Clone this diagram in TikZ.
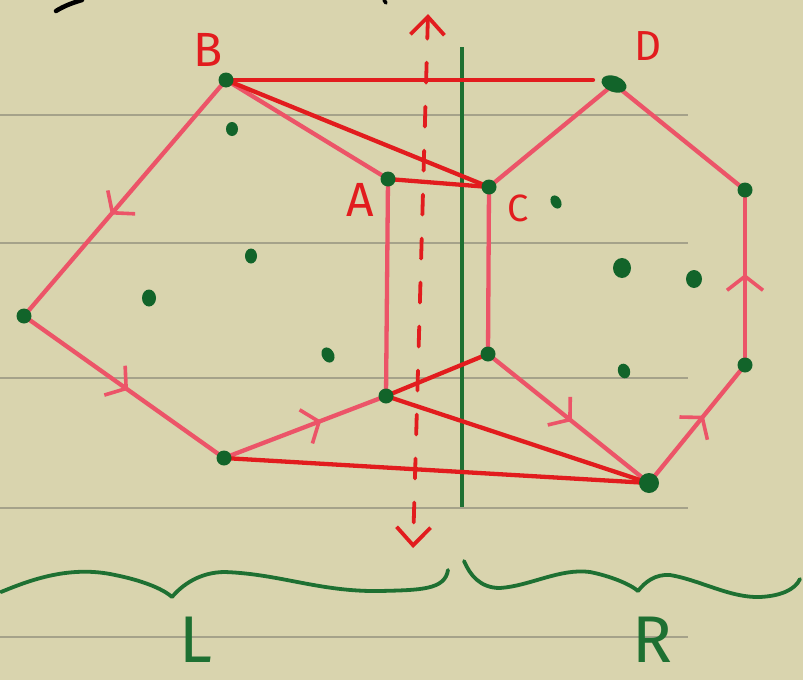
\documentclass[tikz,border=0pt]{standalone}
\usepackage{fontspec}
\setmainfont{Fira Sans}
\usetikzlibrary{arrows.meta,decorations.markings}
\definecolor{paper}{RGB}{217,212,174}
\definecolor{rulec}{RGB}{165,162,138}
\definecolor{pinkc}{RGB}{236,84,104}
\definecolor{redc}{RGB}{226,28,30}
\definecolor{dotc}{RGB}{18,100,42}
\definecolor{greenc}{RGB}{30,112,50}
\tikzset{
  pinkedge/.style={draw=pinkc, line width=4.3pt, line cap=round},
  rededge/.style={draw=redc, line width=4.3pt, line cap=round},
  vdot/.style={fill=dotc, circle, inner sep=0pt, minimum size=15pt},
  idot/.style={fill=dotc},
  midarrow/.style={postaction={decorate}, decoration={markings,
     mark=at position #1 with {\arrow{Straight Barb[length=14pt,width=36pt,line width=3.6pt]}}}},
  midarrow/.default=0.5,
  ruled/.style={draw=rulec, line width=1.8pt},
  redlabel/.style={text=redc, font=\fontsize{48}{48}\selectfont, inner sep=0pt},
  greenlabel/.style={text=greenc, font=\fontsize{66}{66}\selectfont, inner sep=0pt, anchor=base, text depth=0pt},
  brace/.style={draw=greenc, line width=3.8pt, line cap=round, line join=round},
}
\begin{document}
\begin{tikzpicture}[x=1pt,y=-1pt]
\fill[paper] (0,0) rectangle (803,680);
\useasboundingbox (0,0) rectangle (803,680);
% ruled lines
\foreach \yy in {115,243,378,508,637} \draw[ruled] (0,\yy) -- (688,\yy);
% black fragments at top
\draw[black, line width=4.5pt, line cap=round] (56,11) .. controls (64,6) and (72,3) .. (82,0);
\draw[black, line width=3.5pt, line cap=round] (384,0) -- (386,3);
% vertices
\coordinate (B) at (226,80);
\coordinate (D) at (614,84);
\coordinate (Dend) at (593,80);
\coordinate (A) at (388,179);
\coordinate (C) at (489,187);
\coordinate (Lv) at (24,316);
\coordinate (BL) at (224,458);
\coordinate (LA) at (386,396);
\coordinate (LC) at (488,354);
\coordinate (BR) at (649,483);
\coordinate (RU) at (745,190);
\coordinate (RL) at (745,365);
% green separator
\coordinate (gTop) at (462,47);
\coordinate (gBot) at (462,507);
\draw[greenc, line width=4.5pt] (gTop) -- (gBot);
% dashed double arrow
\coordinate (dTop) at (428,14);
\coordinate (dBot) at (413,548);
\draw[redc, line width=3.8pt, dash pattern=on 20pt off 24pt, line cap=round,
      {Straight Barb[length=18pt,width=34pt]}-{Straight Barb[length=18pt,width=34pt]}] (dTop) -- (dBot);
% pink hull edges
\draw[pinkedge, midarrow=0.57] (B) -- (Lv);
\draw[pinkedge, midarrow=0.52] (Lv) -- (BL);
\draw[pinkedge, midarrow=0.6] (BL) -- (LA);
\draw[pinkedge] (LA) -- (A);
\draw[pinkedge] (A) -- (B);
\draw[pinkedge] (C) -- (D);
\draw[pinkedge] (D) -- (RU);
\draw[pinkedge, midarrow=0.52] (RL) -- (RU);
\draw[pinkedge, midarrow=0.57] (BR) -- (RL);
\draw[pinkedge, midarrow=0.52] (LC) -- (BR);
\draw[pinkedge] (C) -- (LC);
% red tangent edges
\draw[rededge] (B) -- (Dend);
\draw[rededge] (B) -- (C);
\draw[rededge] (A) -- (C);
\draw[rededge] (LA) -- (LC);
\draw[rededge] (LA) -- (BR);
\draw[rededge] (BL) -- (BR);
% vertex dots
\foreach \p in {B,A,C,Lv,BL,LA,LC,RU,RL}
  \node[vdot] at (\p) {};
\node[vdot, minimum size=20pt] at (BR) {};
\fill[dotc, rotate around={-20:(D)}] (D) ellipse (13pt and 8pt);
% interior dots
\fill[idot] (232,129) ellipse (6pt and 7pt);
\fill[idot] (251,256) ellipse (6pt and 7.5pt);
\fill[idot] (149,298) ellipse (7pt and 8.5pt);
\fill[idot, rotate around={30:(328,355)}] (328,355) ellipse (6pt and 8pt);
\fill[idot, rotate around={30:(556,202)}] (556,202) ellipse (5pt and 7pt);
\fill[idot] (622,268) ellipse (9pt and 10pt);
\fill[idot] (694,279) ellipse (8pt and 9pt);
\fill[idot, rotate around={20:(624,371)}] (624,371) ellipse (6pt and 7.5pt);
% labels
\node[redlabel] (labB) at (208,50) {B};
\node[redlabel, font=\fontsize{42}{42}\selectfont] (labD) at (648,46) {D};
\node[redlabel] (labA) at (360,200) {A};
\node[redlabel, font=\fontsize{38}{38}\selectfont] (labC) at (518,208) {C};
% braces
\draw[brace] (1,592) .. controls (30,580) and (70,565) .. (115,575)
  .. controls (140,580) and (162,588) .. (172,597)
  .. controls (182,585) and (200,572) .. (225,572)
  .. controls (280,574) and (320,592) .. (380,591)
  .. controls (420,590) and (445,590) .. (448,570);
\draw[brace] (464,561) .. controls (470,575) and (480,588) .. (500,588)
  .. controls (530,586) and (560,568) .. (590,572)
  .. controls (610,576) and (630,584) .. (638,591)
  .. controls (645,582) and (655,574) .. (670,575)
  .. controls (700,580) and (730,598) .. (760,597)
  .. controls (780,596) and (795,590) .. (800,579);
\node[greenlabel] (labL) at (196,662) {L};
\node[greenlabel] (labR) at (652,662) {R};
\end{tikzpicture}
\end{document}
